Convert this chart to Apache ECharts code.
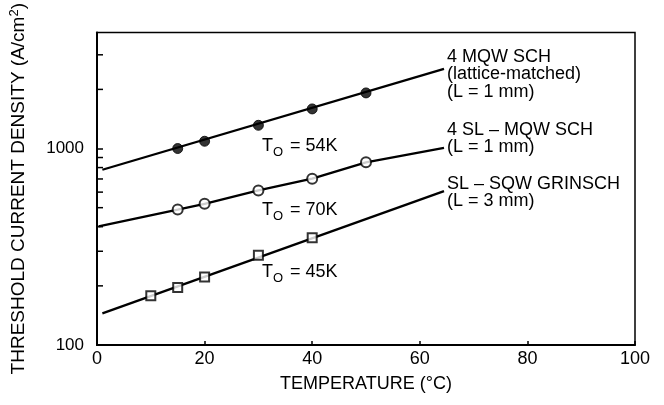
<!DOCTYPE html>
<html>
<head>
<meta charset="utf-8">
<script src="https://cdn.jsdelivr.net/npm/echarts@6/dist/echarts.min.js"></script>
<style>html,body{margin:0;padding:0;background:#fff;}#c{width:664px;height:405px;}</style>
</head>
<body>
<div id="c"></div>
<script>
// ---- data ----
const xTickLabels = [0, 20, 40, 60, 80, 100];
const yTickLabels = [100, 1000];
const yMinorTicks = [200, 300, 400, 500, 600, 700, 800, 900, 2000, 3000];

const mqwTemps = [15, 20, 30, 40, 50];
const mqwValues = [1000, 1089, 1313, 1591, 1919];
const mqwFitTemps = [1, 64.5];
const mqwFitValues = [780, 2541];

const slTemps = [15, 20, 30, 40, 50];
const slValues = [489, 523, 612, 702, 851];
const slFitTemps = [0.3, 15, 20, 30, 40, 50, 64.5];
const slFitValues = [402, 489, 523, 612, 702, 851, 1008];

const sqwTemps = [10, 15, 20, 30, 40];
const sqwValues = [178, 196, 222, 286, 351];
const sqwFitTemps = [1, 64.5];
const sqwFitValues = [145, 607];

const seriesNames = [
  ['4 MQW SCH', '(lattice-matched)', '(L = 1 mm)'],
  ['4 SL \u2013 MQW SCH', '(L = 1 mm)'],
  ['SL \u2013 SQW GRINSCH', '(L = 3 mm)']
];
const t0Labels = ['= 54K', '= 70K', '= 45K'];

// ---- chart ----
const zip = (xs, ys) => xs.map((x, i) => [x, ys[i]]);
const FONT = 'Liberation Sans, Arial, Helvetica, sans-serif';
const chart = echarts.init(document.getElementById('c'), null, {renderer: 'canvas'});

const lineStyle = {color: '#000', width: 2.3};
const fitSeries = (xs, ys) => ({
  type: 'line', data: zip(xs, ys), showSymbol: false, symbol: 'none',
  lineStyle: lineStyle, silent: true, z: 2, animation: false
});

const textEl = (left, top, lines, size) => ({
  type: 'text', left: left, top: top,
  style: {text: lines.join('\n'), font: (size || 18) + 'px ' + FONT, fill: '#000', lineHeight: 17.5}
});

const t0Pos = [[262, 147], [262, 211], [262, 273]];
const graphics = [];
seriesNames.forEach((lines, i) => {
  const tops = [48, 121, 175];
  graphics.push(textEl(447, tops[i], lines));
});
t0Pos.forEach((p, i) => {
  graphics.push({type: 'text', left: p[0], top: p[1] - 10, style: {text: 'T', font: '18px ' + FONT, fill: '#000'}});
  graphics.push({type: 'text', left: p[0] + 11, top: p[1] - 1, style: {text: 'O', font: '13px ' + FONT, fill: '#000'}});
  graphics.push({type: 'text', left: p[0] + 28, top: p[1] - 10, style: {text: t0Labels[i], font: '18px ' + FONT, fill: '#000'}});
});

chart.setOption({
  animation: false,
  backgroundColor: '#fff',
  textStyle: {fontFamily: FONT},
  grid: {left: 95, right: 29, top: 32, bottom: 60, show: true, borderColor: '#000', borderWidth: 1.5, backgroundColor: 'transparent'},
  xAxis: {
    type: 'value', min: 0, max: 100, interval: 20,
    name: 'TEMPERATURE (\u00b0C)', nameLocation: 'middle', nameGap: 30,
    nameTextStyle: {color: '#000', fontSize: 18, fontFamily: FONT},
    axisLine: {show: true, lineStyle: {color: '#000', width: 2}},
    axisTick: {show: true, inside: true, length: 4, lineStyle: {color: '#000', width: 1.5}},
    axisLabel: {color: '#000', fontSize: 18, fontFamily: FONT, margin: 5,
      formatter: v => xTickLabels.indexOf(v) >= 0 ? String(v) : ''},
    splitLine: {show: false}
  },
  yAxis: {
    type: 'log', logBase: 10, min: 100, max: 3900,
    name: '{n|THRESHOLD CURRENT DENSITY (A/cm}{s|2}{n|)}', nameLocation: 'middle', nameGap: 68, nameRotate: 90,
    nameTextStyle: {color: '#000', fontSize: 19, fontFamily: FONT,
      rich: {n: {fontSize: 19, fontFamily: FONT, color: '#000'},
             s: {fontSize: 13, fontFamily: FONT, color: '#000', padding: [0, 0, 8, 0]}}},
    axisLine: {show: true, lineStyle: {color: '#000', width: 2}},
    axisTick: {show: true, inside: true, length: 6, lineStyle: {color: '#000', width: 1.5}},
    axisLabel: {color: '#000', fontSize: 17, fontFamily: FONT, margin: 13, showMaxLabel: false,
      formatter: v => {
        const hit = yTickLabels.find(t => Math.abs(v - t) < 1e-6 * t);
        return hit ? String(hit) : '';
      }},
    splitLine: {show: false}
  },
  series: [
    fitSeries(mqwFitTemps, mqwFitValues),
    fitSeries(slFitTemps, slFitValues),
    fitSeries(sqwFitTemps, sqwFitValues),
    {type: 'scatter', data: zip(mqwTemps, mqwValues), symbol: 'circle', symbolSize: 10,
      itemStyle: {color: '#000', borderColor: '#000', borderWidth: 1}, z: 3},
    {type: 'scatter', data: zip(slTemps, slValues), symbol: 'circle', symbolSize: 10,
      itemStyle: {color: '#fff', borderColor: '#000', borderWidth: 2}, z: 3},
    {type: 'scatter', data: zip(sqwTemps, sqwValues), symbol: 'rect', symbolSize: 9,
      itemStyle: {color: '#fff', borderColor: '#000', borderWidth: 2}, z: 3},
    {type: 'custom', data: yMinorTicks.map(v => [0, v]), silent: true, z: 4, clip: false,
      renderItem: (params, api) => {
        const p = api.coord([api.value(0), api.value(1)]);
        return {type: 'line', shape: {x1: p[0], y1: p[1], x2: p[0] + 6, y2: p[1]},
          style: {stroke: '#000', lineWidth: 1.5}};
      }}
  ],
  graphic: graphics
});
</script>
</body>
</html>
